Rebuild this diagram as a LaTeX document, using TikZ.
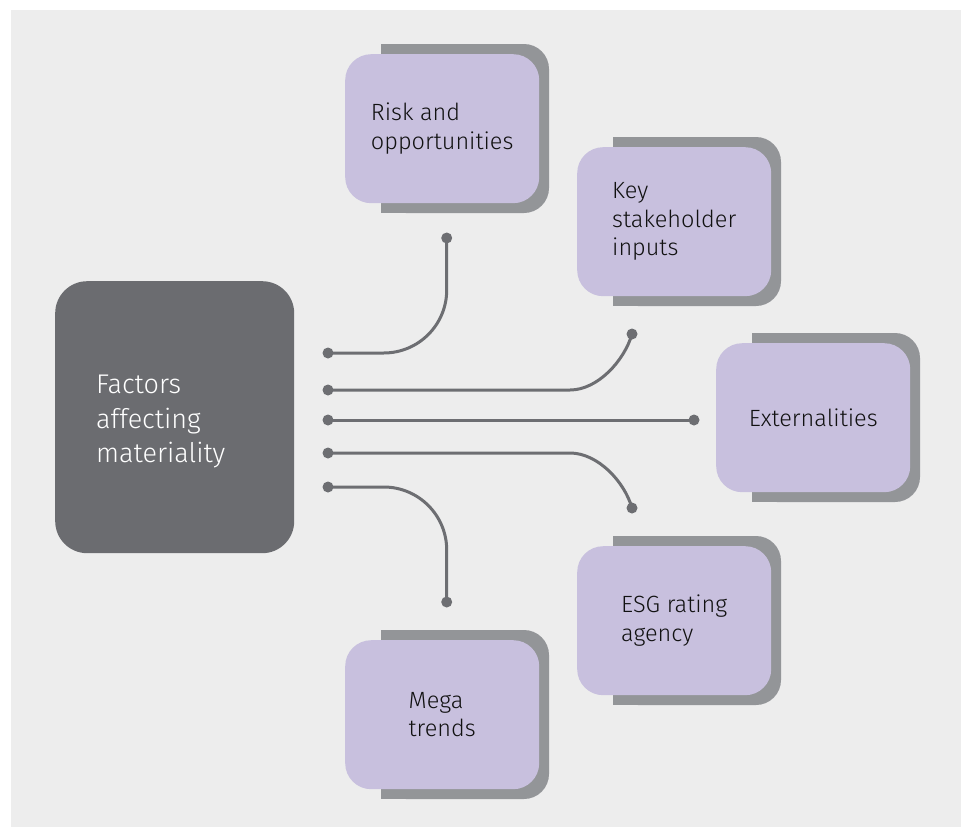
\documentclass[tikz,border=0pt]{standalone}
\usepackage{fontspec}
\setmainfont{Fira Sans}[UprightFont=* Light]
\definecolor{bgc}{HTML}{EDEDED}
\definecolor{purp}{HTML}{C8C0DE}
\definecolor{shad}{HTML}{939598}
\definecolor{darkb}{HTML}{6B6C70}
\definecolor{linec}{HTML}{6D6E72}
\definecolor{txt}{HTML}{111111}
\newcommand\myshadow[2]{%
  \fill[shad, rounded corners=25pt] ({#1+36},{#2-10}) rectangle ({#1+204},{#2+159});
  \fill[shad] ({#1+36},{#2-10}) rectangle ({#1+100},{#2+159});}
\begin{document}
\begin{tikzpicture}[x=1pt,y=-1pt,
  pbox/.style={fill=purp, rounded corners=26pt, minimum width=194pt, minimum height=149pt,
    anchor=north west, align=left, text=txt, inner sep=0pt,
    font=\fontsize{23.5}{28.5}\selectfont},
  cbox/.style={fill=darkb, rounded corners=32pt, minimum width=239pt, minimum height=272pt,
    anchor=north west, inner sep=0pt},
  ctxt/.style={text=white, align=left, inner sep=0pt, anchor=west,
    font=\fontsize{27}{34.5}\selectfont},
  dot/.style={circle, fill=linec, inner sep=0pt, minimum size=11pt},
  conn/.style={draw=linec, line width=3pt}]
\useasboundingbox (0,0) rectangle (961,827);
\fill[white] (0,0) rectangle (961,827);
\fill[bgc] (11,10) rectangle (961,827);

% central box
\node[cbox] (center) at (55,281) {};
\node[ctxt] (ctext) at (96,422) {Factors\\affecting\\materiality};

% shadows
\myshadow{345}{54}
\myshadow{577}{147}
\myshadow{716}{343}
\myshadow{577}{546}
\myshadow{345}{640}

% purple boxes
\node[pbox] (risk) at (345,54) {Risk and\\opportunities};
\node[pbox] (key) at (577,147) {Key\\stakeholder\\inputs};
\node[pbox] (ext) at (716,343) {Externalities};
\node[pbox] (esg) at (577,546) {ESG rating\\agency};
\node[pbox] (mega) at (345,640) {Mega\\trends};

% connector end points
\coordinate (k2) at (570,390);
\coordinate (k4) at (570,453);
\node[dot] (l1) at (328,353) {};
\node[dot] (l2) at (328,390) {};
\node[dot] (l3) at (328,420) {};
\node[dot] (l4) at (328,453) {};
\node[dot] (l5) at (328,487) {};
\node[dot] (r1) at (446.7,238) {};
\node[dot] (r2) at (632,334) {};
\node[dot] (r3) at (694,420) {};
\node[dot] (r4) at (632,508) {};
\node[dot] (r5) at (446.7,602) {};

% connectors
\draw[conn, rounded corners=63pt] (l1.center) -| (r1.center);
\draw[conn] (l2.center) -- (k2) .. controls (597.7,390) and (624.4,360.6) .. (r2.center);
\draw[conn] (l3.center) -- (r3.center);
\draw[conn] (l4.center) -- (k4) .. controls (597.7,453) and (624.4,481.4) .. (r4.center);
\draw[conn, rounded corners=63pt] (l5.center) -| (r5.center);
\end{tikzpicture}
\end{document}
